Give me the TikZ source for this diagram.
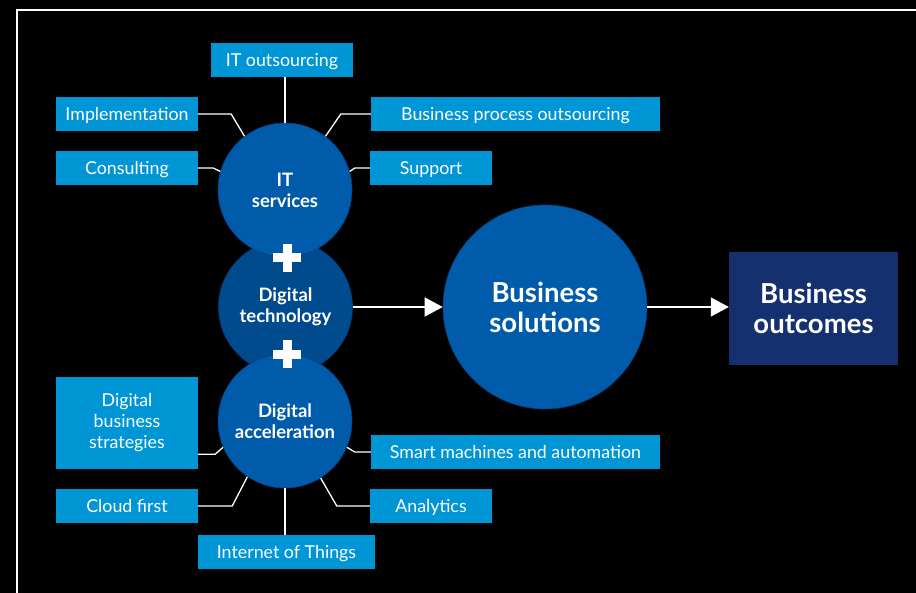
\documentclass[tikz,border=0pt]{standalone}
\usepackage{fontspec}
\setmainfont{Lato}
\usetikzlibrary{arrows.meta}
\definecolor{boxblue}{HTML}{0096D6}
\definecolor{circblue}{HTML}{005CAA}
\definecolor{circdark}{HTML}{004A8E}
\definecolor{circedge}{HTML}{003F7C}
\definecolor{navy}{HTML}{14306E}
\tikzset{
  lbox/.style={rectangle, fill=boxblue, text=white, inner sep=0pt, align=center,
    font=\fontsize{17.8}{21}\selectfont},
  sbox/.style={lbox, minimum height=34pt, text height=12.5pt, text depth=0pt},
  circ/.style={circle, fill=circblue, draw=circedge, line width=0.6pt, text=white, inner sep=0pt,
    minimum size=134pt, align=center, font=\bfseries\fontsize{18.5}{21}\selectfont},
  conn/.style={draw=white, line width=1.3pt},
  bigarrow/.style={draw=white, line width=1.5pt, -{Triangle[length=18pt,width=19pt]}},
  plusbar/.style={fill=white, draw=none}
}
\begin{document}
\begin{tikzpicture}[x=1pt,y=-1pt]
\useasboundingbox (0,0) rectangle (916,593);
\fill[black] (0,0) rectangle (916,593);
\draw[white, line width=2pt] (17,595) -- (17,10) -- (918,10);

% boxes
\node[sbox, minimum width=142pt] (ito) at (282,60) {IT outsourcing};
\node[sbox, minimum width=142pt] (impl) at (127,114) {Implementation};
\node[sbox, minimum width=142pt] (cons) at (127,168) {Consulting};
\node[sbox, minimum width=289pt] (bpo) at (515.5,114) {Business process outsourcing};
\node[sbox, minimum width=122pt] (supp) at (431,168) {Support};
\node[lbox, minimum width=142pt, minimum height=92pt] (dbs) at (127,423) {Digital\\business\\strategies};
\node[sbox, minimum width=142pt] (cloud) at (127,506) {Cloud first};
\node[sbox, minimum width=177pt] (iot) at (286.5,552) {Internet of Things};
\node[sbox, minimum width=289pt] (smart) at (515.5,452) {Smart machines and automation};
\node[sbox, minimum width=122pt] (ana) at (431,506) {Analytics};

% circles
\node[circ, fill=circdark] (dt) at (285.5,307) {Digital\\technology};
\node[circ] (its) at (285,190) {IT\\services};
\node[circ] (da) at (285,421) {Digital\\acceleration};
\node[circ, minimum size=204pt, font=\bfseries\fontsize{27.5}{30}\selectfont] (bs) at (545,307) {Business\\solutions};
\node[rectangle, fill=navy, text=white, minimum width=169pt, minimum height=113pt, inner sep=0pt,
  align=center, font=\bfseries\fontsize{27.5}{30}\selectfont] (bo) at (813.5,308.5) {Business\\outcomes};

% plus signs
\node[plusbar, minimum width=28pt, minimum height=9pt, inner sep=0pt] (p1h) at (287,258) {};
\node[plusbar, minimum width=9pt, minimum height=28pt, inner sep=0pt] (p1v) at (287,258) {};
\node[plusbar, minimum width=28pt, minimum height=9pt, inner sep=0pt] (p2h) at (287,354.5) {};
\node[plusbar, minimum width=9pt, minimum height=28pt, inner sep=0pt] (p2v) at (287,354.5) {};

% connectors
\draw[conn] (its.north) -- (its.north |- ito.south);
\draw[conn] (impl.east) -- ++(33pt,0pt) -- (its.127);
\draw[conn] (cons.east) -- ++(15pt,0pt) -- (its.164);
\draw[conn] (bpo.west) -- ++(-30pt,0pt) -- (its.53);
\draw[conn] (supp.west) -- ++(-15pt,0pt) -- (its.16);
\draw[conn] ([yshift=15pt]dbs.south east) -- ++(17pt,0pt) -- (da.203);
\draw[conn] (cloud.east) -- ++(34pt,0pt) -- (da.236);
\draw[conn] (da.south) -- (da.south |- iot.north);
\draw[conn] (smart.west) -- ++(-16pt,0pt) -- (da.337);
\draw[conn] (ana.west) -- ++(-33pt,0pt) -- (da.302);

% arrows
\draw[bigarrow] (dt.east) -- (bs.west);
\draw[bigarrow] (bs.east) -- (bs.east -| bo.west);
\end{tikzpicture}
\end{document}
